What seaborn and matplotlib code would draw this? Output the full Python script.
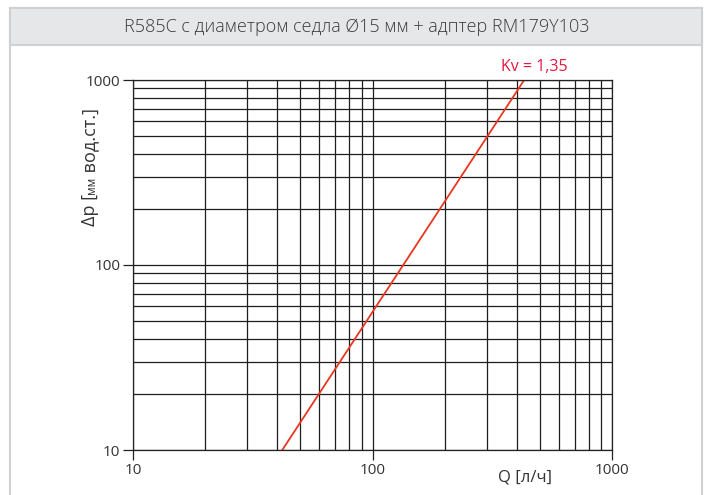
import matplotlib
matplotlib.use("Agg")
import matplotlib.pyplot as plt
import seaborn as sns
import pandas as pd
from matplotlib.patches import Rectangle
from matplotlib.ticker import LogLocator, FixedLocator, FixedFormatter, NullFormatter

# ---- data ----
title = "R585C с диаметром седла Ø15 мм + адптер RM179Y103"
flow_lph = [42, 430]          # Q [л/ч]
dp_mm = [10, 1000]            # Δp [мм вод.ст.]
kv_label = "Kv = 1,35"
x_ticks = [10, 100, 1000]
x_tick_labels = ["10", "100", "1000"]
y_ticks = [10, 100, 1000]
y_tick_labels = ["10", "100", "1000"]
x_label = "Q [л/ч]"
y_label_parts = ["Δp [", "мм", " вод.ст.]"]

sns.set_style("white")
plt.rcParams['font.family'] = ['Open Sans', 'DejaVu Sans']

W, H = 704, 495
fig = plt.figure(figsize=(7.04, 4.95), dpi=100)


def fx(px):
    return px / W


def fy(py):
    return 1 - py / H


frame_col = '#cfd0d1'
# outer frame
fig.patches.append(Rectangle((fx(10), fy(510)), fx(702) - fx(10), fy(8) - fy(510),
                             transform=fig.transFigure, fill=False, edgecolor=frame_col, lw=1.5))
# title band
fig.patches.append(Rectangle((fx(10), fy(45)), fx(702) - fx(10), fy(8) - fy(45),
                             transform=fig.transFigure, facecolor='#e6e7e8', edgecolor=frame_col, lw=1.5))
fig.text(fx(357), fy(27), title, ha='center', va='center', fontsize=13, color='#3a3a3a',
         fontweight='light')

ax = fig.add_axes([fx(133), fy(450), fx(612) - fx(133), fy(80) - fy(450)])
df = pd.DataFrame({"Q": flow_lph, "dp": dp_mm})
sns.lineplot(data=df, x="Q", y="dp", ax=ax, color='#e8361f', lw=1.3, legend=False)
ax.set_xscale('log')
ax.set_yscale('log')
ax.set_xlim(10, 1000)
ax.set_ylim(10, 1000)
ax.set_xlabel("")
ax.set_ylabel("")

for axis, ticks, labels in ((ax.xaxis, x_ticks, x_tick_labels), (ax.yaxis, y_ticks, y_tick_labels)):
    axis.set_major_locator(FixedLocator(ticks))
    axis.set_major_formatter(FixedFormatter(labels))
    axis.set_minor_locator(LogLocator(base=10, subs=range(2, 10)))
    axis.set_minor_formatter(NullFormatter())

ax.tick_params(which='major', direction='out', length=7, width=0.9, color='#222222',
               labelsize=11, labelcolor='#333333', pad=2, bottom=True, left=True)
ax.tick_params(which='minor', length=0)
ax.grid(which='both', color='#1e1e1e', lw=0.9)
ax.set_axisbelow(True)
for s in ax.spines.values():
    s.set_color('#222222')
    s.set_linewidth(0.9)

ax.text(476, 1180, kv_label, color='#e5173f', fontsize=11.5, ha='center', va='center',
        transform=ax.transData, clip_on=False)

fig.text(fx(525), fy(478), x_label, ha='center', va='center', fontsize=12, color='#333333')

# y label assembled from pieces
fig.canvas.draw()
renderer = fig.canvas.get_renderer()
cur = 226
sizes = [13, 8.5, 13]
for part, fs in zip(y_label_parts, sizes):
    xoff = 90 if fs == 13 else 92
    t = fig.text(fx(xoff), fy(cur), part, rotation=90, ha='center', va='bottom',
                 fontsize=fs, color='#333333', rotation_mode='default')
    bb = t.get_window_extent(renderer)
    cur -= bb.height

fig.savefig("out.png", dpi=100)
